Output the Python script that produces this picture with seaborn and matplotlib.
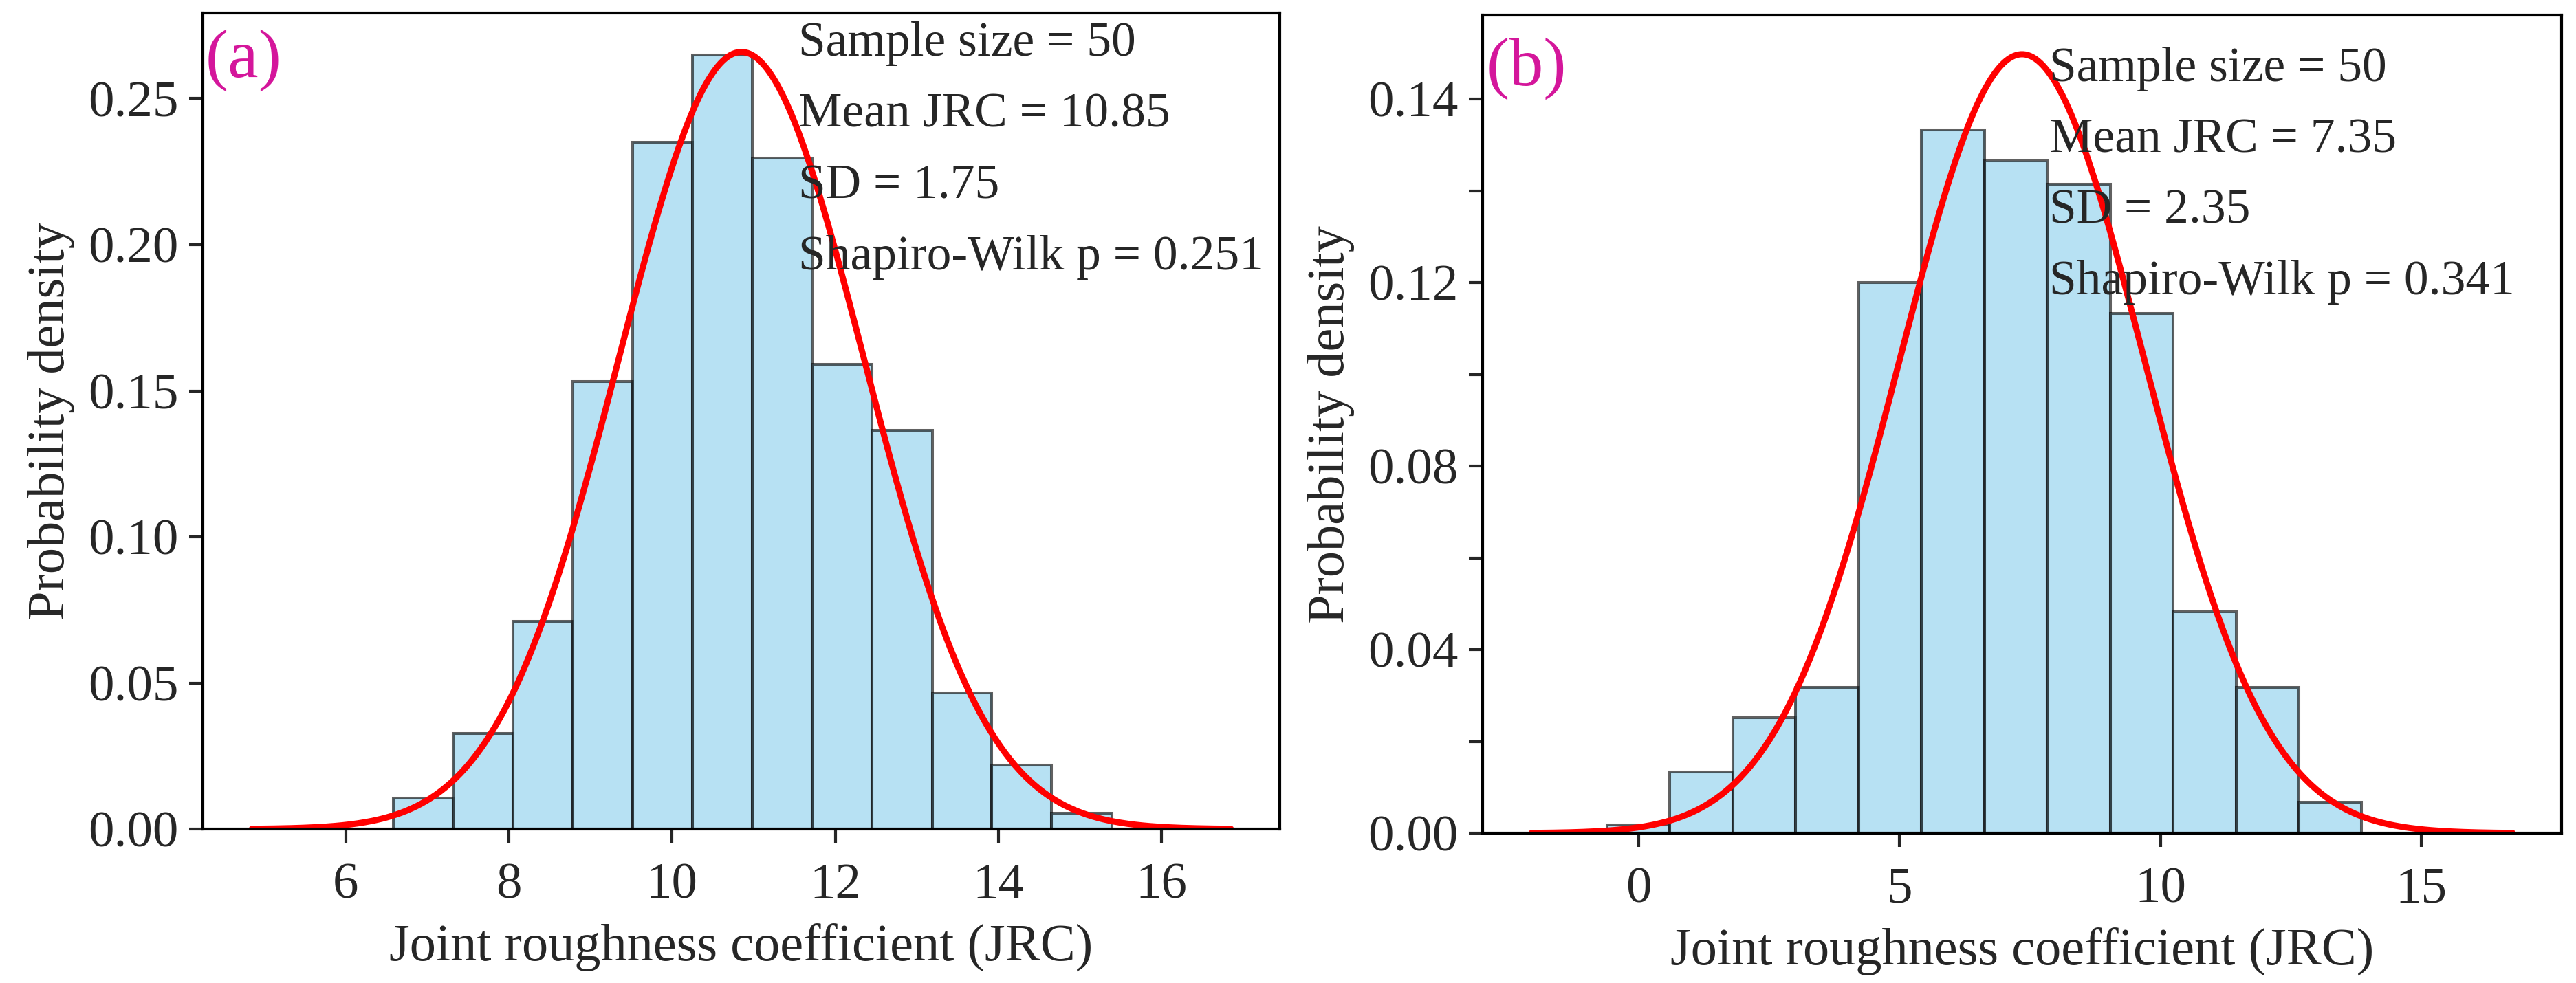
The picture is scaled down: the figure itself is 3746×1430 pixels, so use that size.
import numpy as np
import pandas as pd
import seaborn as sns
import matplotlib.pyplot as plt

# bin edges and bar heights (probability density)
edges_a = [6.58, 7.32, 8.05, 8.78, 9.52, 10.25, 10.98, 11.72, 12.45, 13.19, 13.92, 14.65, 15.39]
dens_a = [0.0107, 0.0326, 0.0711, 0.1532, 0.235, 0.265, 0.2297, 0.159, 0.1365, 0.0465, 0.0219, 0.0054]

edges_b = [-0.60, 0.60, 1.81, 3.01, 4.22, 5.42, 6.63, 7.83, 9.04, 10.24, 11.45, 12.65, 13.86]
dens_b = [0.0018, 0.0133, 0.0252, 0.0317, 0.120, 0.1533, 0.1465, 0.1415, 0.1132, 0.0483, 0.0317, 0.0068]

# fitted normal curve (mean, sd) drawn in red
fit_a = (10.85, 1.50)
fit_b = (7.35, 2.35)

stats_a = ["Sample size = 50", "Mean JRC = 10.85", "SD = 1.75", "Shapiro-Wilk p = 0.251"]
stats_b = ["Sample size = 50", "Mean JRC = 7.35", "SD = 2.35", "Shapiro-Wilk p = 0.341"]

xticks_a = [6, 8, 10, 12, 14, 16]
yticks_a = [0.00, 0.05, 0.10, 0.15, 0.20, 0.25]
yticklabels_a = ["0.00", "0.05", "0.10", "0.15", "0.20", "0.25"]

xticks_b = [0, 5, 10, 15]
yticks_b = [0.00, 0.02, 0.04, 0.06, 0.08, 0.10, 0.12, 0.14, 0.16]
yticklabels_b = ["0.00", "", "0.04", "", "0.08", "", "0.12", "", "0.14"]

sns.set_style("ticks")
plt.rcParams["font.family"] = ["Liberation Serif", "DejaVu Serif"]

fig = plt.figure(figsize=(37.46, 14.30), dpi=100)
ax_a = fig.add_axes([0.0788, 0.1566, 0.418, 0.830])
ax_b = fig.add_axes([0.5755, 0.1524, 0.4189, 0.832])


def draw_panel(ax, edges, dens, fit, stats, tag, xticks, yticks, yticklabels, tx, ty, tagx, tagy):
    centers = [(edges[i] + edges[i + 1]) / 2 for i in range(len(dens))]
    df = pd.DataFrame({"x": centers, "w": dens})
    sns.histplot(data=df, x="x", weights="w", bins=list(edges), stat="count", ax=ax,
                 facecolor=(0.529, 0.808, 0.922, 0.6), edgecolor=(0.05, 0.05, 0.05, 0.65),
                 linewidth=2.9)

    mu, sd = fit
    xs = np.linspace(mu - 4 * sd, mu + 4 * sd, 400)
    pdf = np.exp(-0.5 * ((xs - mu) / sd) ** 2) / (sd * np.sqrt(2 * np.pi))
    sns.lineplot(x=xs, y=pdf, ax=ax, color="red", linewidth=6.5)

    ax.set_xticks(xticks)
    ax.set_yticks(yticks)
    ax.set_yticklabels(yticklabels)
    ax.tick_params(axis="both", labelsize=54, length=14.4, width=3, direction="out")
    ax.tick_params(axis="x", pad=21)
    ax.tick_params(axis="y", pad=11)
    for s in ax.spines.values():
        s.set_linewidth(3)
        s.set_color("black")

    ax.set_xlabel("Joint roughness coefficient (JRC)", fontsize=55, labelpad=15)
    ax.set_ylabel("Probability density", fontsize=55, labelpad=14)

    ax.text(tx, ty, "\n".join(stats), transform=ax.transAxes, ha="left", va="top",
            fontsize=51.5, linespacing=1.77)
    ax.text(tagx, tagy, tag, transform=ax.transAxes, ha="left", va="top",
            fontsize=72, color="#d4169b")


draw_panel(ax_a, edges_a, dens_a, fit_a, stats_a, "(a)", xticks_a, yticks_a, yticklabels_a,
           0.553, 0.990, 0.002, 0.980)
draw_panel(ax_b, edges_b, dens_b, fit_b, stats_b, "(b)", xticks_b, yticks_b, yticklabels_b,
           0.525, 0.962, 0.004, 0.973)

fig.savefig("out.png", dpi=100)
